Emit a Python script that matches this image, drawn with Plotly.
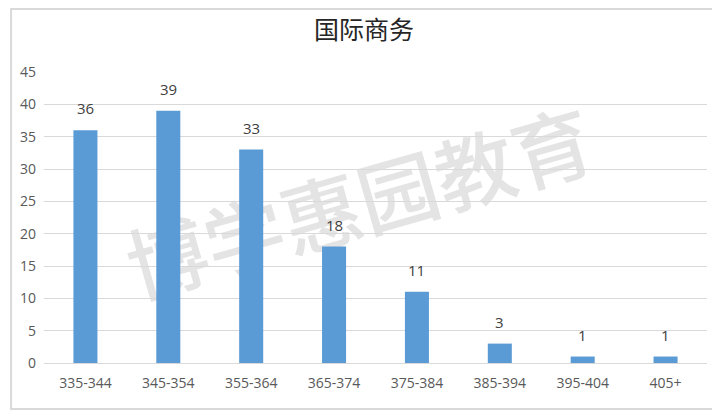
import plotly.graph_objects as go

categories = ["335-344", "345-354", "355-364", "365-374", "375-384", "385-394", "395-404", "405+"]
counts = [36, 39, 33, 18, 11, 3, 1, 1]
y_ticks = [0, 5, 10, 15, 20, 25, 30, 35, 40, 45]

W, H = 712, 402
L, R, T, B = 34, 13, 64, 47
pw, ph = W - L - R, H - T - B

def px_x(p):
    return (p - L) / pw

def px_y(p):
    return (H - B - p) / ph

fig = go.Figure()
fig.add_trace(go.Bar(
    x=categories, y=counts,
    marker=dict(color="#5B9BD5", line=dict(width=0)),
    width=0.29,
    hoverinfo="x+y",
))

for c, v in zip(categories, counts):
    fig.add_annotation(x=c, y=v, text=str(v), showarrow=False, yanchor="bottom",
                       yshift=10, font=dict(size=15, color="#404040", family="Open Sans, Arial, sans-serif"))

shapes = [
    # watermark behind the bars
    dict(type="rect", xref="paper", yref="paper", x0=0.36, x1=0.60, y0=0.42, y1=0.62,
         line=dict(width=0), fillcolor="rgba(0,0,0,0)", layer="below",
         label=dict(text="博学惠园教育", textangle=-16, textposition="middle center",
                    font=dict(size=80, color="#e4e4e4", family="Noto Sans CJK SC", weight=500))),
    # outer border
    dict(type="rect", xref="paper", yref="paper", x0=px_x(1), x1=px_x(W - 1), y0=px_y(H - 1), y1=px_y(1),
         line=dict(color="#d9d9d9", width=2)),
]

fig.update_layout(
    width=W, height=H,
    paper_bgcolor="white", plot_bgcolor="white",
    margin=dict(l=L, r=R, t=T, b=B),
    title=dict(text="国际商务", x=0.5, xanchor="center", y=1 - 22 / H, yanchor="middle",
               font=dict(size=25, color="#262626", family="Noto Sans CJK SC")),
    showlegend=False,
    bargap=0.71,
    xaxis=dict(showgrid=False, showline=True, linecolor="#d9d9d9", linewidth=1,
               tickfont=dict(size=14, color="#595959", family="Open Sans, Arial, sans-serif"),
               ticks="", ticklabelstandoff=7),
    yaxis=dict(range=[0, 45], tickvals=y_ticks, showgrid=True, gridcolor="#d9d9d9",
               gridwidth=1, zeroline=False, showline=False, ticks="", ticklabelstandoff=7,
               tickfont=dict(size=14, color="#595959", family="Open Sans, Arial, sans-serif")),
    shapes=shapes,
)

fig.write_html("out.html")
